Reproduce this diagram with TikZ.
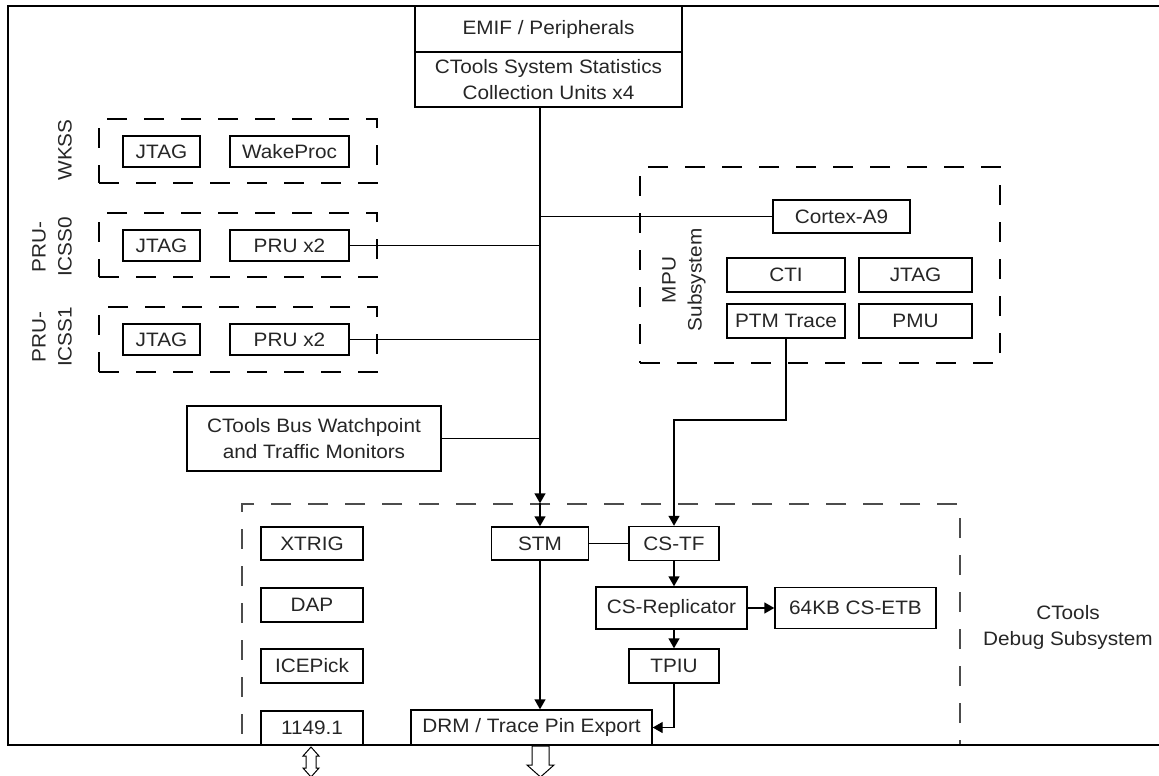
\documentclass[tikz,border=0pt]{standalone}
\usepackage{fontspec}
\setmainfont{Liberation Sans}[FakeStretch=1.07]
\usepackage{tikz}
\usetikzlibrary{positioning, arrows.meta}

\begin{document}
\begin{tikzpicture}[x=1pt, y=-1pt,
    every node/.style={font=\fontsize{19.4pt}{26pt}\selectfont, text=black!85},
    blk/.style={draw, line width=1.4pt, fill=white, inner sep=2pt, align=center},
    grp/.style={draw, line width=1.4pt, dash pattern=on 20pt off 17pt, minimum width=278pt, minimum height=64pt},
    lbl/.style={rotate=90, align=center},
    arr/.style={-{Triangle[length=10pt, width=11pt]}},
    line width=1.4pt]
    \useasboundingbox (0,0) rectangle (1159,776);

    \node[grp] (wkss) at (238,151) {};
    \node[grp] (pru0) at (238,245) {};
    \node[grp, minimum height=65pt] (pru1) at (238,339.5) {};
    \node[grp, minimum width=360pt, minimum height=196pt] (mpu) at (820,265) {};
    \node[grp, draw=black!70, minimum width=718pt, minimum height=241pt] (dbg) at (601,624.5) {};

    \node[lbl] (wkssl) at (65,150) {WKSS};
    \node[lbl] (pru0l) at (52,247) {PRU-\\ICSS0};
    \node[lbl] (pru1l) at (52,337) {PRU-\\ICSS1};
    \node[lbl] (mpul) at (684,280) {MPU\\Subsystem};
    \node[align=center] (dbgl) at (1068,627) {CTools\\Debug Subsystem};

    \node[blk, minimum width=267pt, minimum height=46pt] (emif) at (548.5,29) {EMIF / Peripherals};
    \node[blk, minimum width=267pt, minimum height=55pt] (sscu) at (548.5,79.5) {CTools System Statistics\\Collection Units x4};

    \node[blk, minimum width=77pt, minimum height=31pt] (wkjtag) at (161.5,151.5) {JTAG};
    \node[blk, minimum width=119pt, minimum height=31pt] (wake) at (289.5,151.5) {WakeProc};
    \node[blk, minimum width=77pt, minimum height=31pt] (pru0jtag) at (161.5,245.5) {JTAG};
    \node[blk, minimum width=119pt, minimum height=31pt] (pru0core) at (289.5,245.5) {PRU x2};
    \node[blk, minimum width=77pt, minimum height=31pt] (pru1jtag) at (161.5,339.5) {JTAG};
    \node[blk, minimum width=119pt, minimum height=31pt] (pru1core) at (289.5,339.5) {PRU x2};

    \node[blk, minimum width=137pt, minimum height=33pt] (cortex) at (841.5,216.5) {Cortex-A9};
    \node[blk, minimum width=118pt, minimum height=34pt] (cti) at (786,275) {CTI};
    \node[blk, minimum width=113pt, minimum height=34pt] (mjtag) at (915.5,275) {JTAG};
    \node[blk, minimum width=118pt, minimum height=34pt] (ptm) at (786,321) {PTM Trace};
    \node[blk, minimum width=113pt, minimum height=34pt] (pmu) at (915.5,321) {PMU};

    \node[blk, minimum width=254pt, minimum height=65pt] (bwm) at (314,438.5) {CTools Bus Watchpoint\\and Traffic Monitors};

    \node[blk, minimum width=102pt, minimum height=33pt] (xtrig) at (312,543.5) {XTRIG};
    \node[blk, minimum width=102pt, minimum height=34pt] (dap) at (312,605) {DAP};
    \node[blk, minimum width=102pt, minimum height=34pt] (icepick) at (312,666) {ICEPick};
    \node[blk, minimum width=102pt, minimum height=34pt] (ieee) at (312,728) {1149.1};
    \node[blk, minimum width=97pt, minimum height=33pt] (stm) at (540,543.5) {STM};
    \node[blk, minimum width=90pt, minimum height=34pt] (cstf) at (674,543.5) {CS-TF};
    \node[blk, minimum width=151pt, minimum height=42pt] (csrep) at (671.5,608) {CS-Replicator};
    \node[blk, minimum width=161pt, minimum height=41pt] (etb) at (855.5,608) {64KB CS-ETB};
    \node[blk, minimum width=90pt, minimum height=34pt] (tpiu) at (674,666) {TPIU};
    \node[blk, minimum width=241pt, minimum height=35pt] (drm) at (531.5,727.5) {DRM / Trace Pin Export};

    \coordinate (bend) at (0,420);
    \draw[arr] (sscu.south -| stm.north) -- (stm.north |- dbg.north);
    \draw[arr] (stm.north |- dbg.north) -- (stm.north);
    \draw (pru0core.east) -- (pru0core.east -| stm.north);
    \draw (pru1core.east) -- (pru1core.east -| stm.north);
    \draw (bwm.east) -- (bwm.east -| stm.north);
    \draw (cortex.west) -- (cortex.west -| stm.north);
    \draw[arr] (ptm.south) -- (ptm.south |- bend) -| (cstf.north);
    \draw (stm.east) -- (cstf.west);
    \draw[arr] (cstf.south) -- (cstf.south |- csrep.north);
    \draw[arr] (csrep.east) -- (etb.west);
    \draw[arr] (tpiu.north |- csrep.south) -- (tpiu.north);
    \draw[arr] (stm.south) -- (stm.south |- drm.north);
    \draw[arr] (tpiu.south) |- (drm.east);

    \draw[line width=2pt] (1159,6) -- (8,6) -- (8,745) -- (1159,745);

    \draw[line width=1pt] (311,747) -- (319,756) -- (316,756) -- (316,768) -- (319,768) -- (311,777)
        -- (303,768) -- (306,768) -- (306,756) -- (303,756) -- cycle;
    \draw[line width=1pt] (532,746) -- (549,746) -- (549,765) -- (554,765) -- (540.5,777)
        -- (527,765) -- (532,765) -- cycle;
\end{tikzpicture}
\end{document}
